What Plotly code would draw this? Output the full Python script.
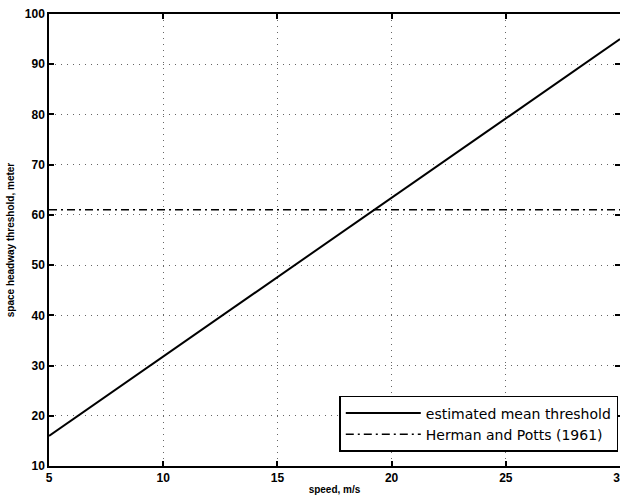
import plotly.graph_objects as go

speed = [5, 30]
estimated_threshold = [16, 95]
herman_speed = [5, 30]
herman_potts = [61, 61]

x_ticks = [5, 10, 15, 20, 25, 30]
y_ticks = [10, 20, 30, 40, 50, 60, 70, 80, 90, 100]

fig = go.Figure()
fig.add_trace(go.Scatter(
    x=speed, y=estimated_threshold, mode="lines",
    name="estimated mean threshold",
    line=dict(color="black", width=2),
))
fig.add_trace(go.Scatter(
    x=herman_speed, y=herman_potts, mode="lines",
    name="Herman and Potts (1961)",
    line=dict(color="black", width=1.5, dash="8px,4px,2px,4px"),
))

tickfont = dict(family="Liberation Sans, Arial, sans-serif", size=12, color="black", weight="bold")
axis_common = dict(
    showline=True, linecolor="black", linewidth=1.5, mirror="ticks",
    ticks="inside", ticklen=5, tickcolor="black", tickwidth=1.5,
    showgrid=True, gridcolor="#666666", gridwidth=1, griddash="1px,5px",
    zeroline=False, tickfont=tickfont, automargin=False,
    ticklabeloverflow="allow",
)

fig.update_layout(
    width=620, height=499,
    margin=dict(l=49, r=0, t=14, b=33),
    plot_bgcolor="white", paper_bgcolor="white",
    xaxis=dict(
        range=[5, 30], tickvals=x_ticks, ticktext=[str(v) for v in x_ticks],
        title=dict(text="speed, m/s", font=dict(family="Liberation Sans, Arial, sans-serif", size=10, color="black", weight="bold"), standoff=2),
        **axis_common,
    ),
    yaxis=dict(
        range=[10, 100], tickvals=y_ticks, ticktext=[str(v) for v in y_ticks],
        title=dict(text="space headway threshold, meter", font=dict(family="Liberation Sans, Arial, sans-serif", size=10, color="black", weight="bold"), standoff=8),
        **axis_common,
    ),
    legend=dict(
        x=0.997, xanchor="right", y=0.031, yanchor="bottom",
        bordercolor="black", borderwidth=1.5, bgcolor="white",
        font=dict(family="DejaVu Sans, sans-serif", size=14, color="black"),
        tracegroupgap=0, itemwidth=75,
    ),
    showlegend=True,
)

fig.write_html("out.html")
